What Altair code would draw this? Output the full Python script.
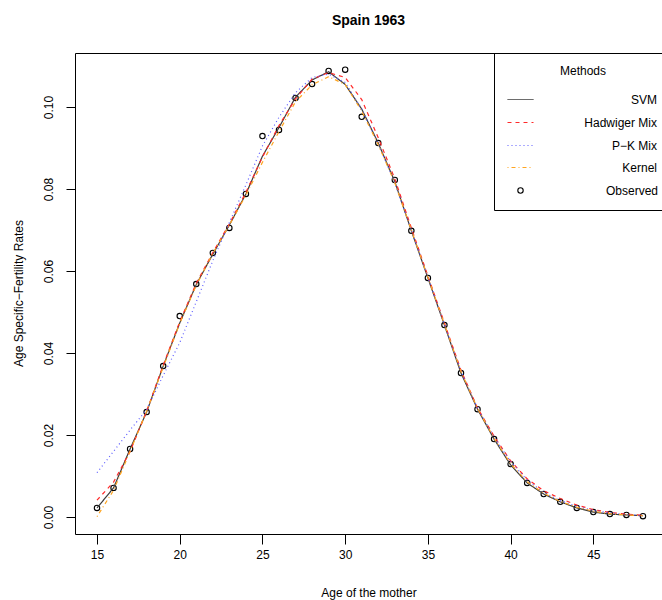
import altair as alt
import pandas as pd

FONT = "Liberation Sans"

ages = list(range(15, 49))
observed = [0.0022, 0.0071, 0.0166, 0.0256, 0.0368, 0.0490, 0.0568, 0.0644, 0.0705, 0.0788,
            0.0929, 0.0944, 0.1022, 0.1056, 0.1088, 0.1091, 0.0976, 0.0912, 0.0822, 0.0698,
            0.0583, 0.0468, 0.0351, 0.0263, 0.0190, 0.0129, 0.0083, 0.0056, 0.0037, 0.0022,
            0.0012, 0.0007, 0.0005, 0.0002]
svm = [0.0022, 0.0071, 0.0166, 0.0256, 0.0368, 0.0473, 0.0567, 0.0641, 0.0712, 0.0788,
       0.0880, 0.0950, 0.1024, 0.1066, 0.1086, 0.1055, 0.0995, 0.0912, 0.0818, 0.0698,
       0.0583, 0.0468, 0.0351, 0.0263, 0.0190, 0.0127, 0.0083, 0.0056, 0.0037, 0.0022,
       0.0012, 0.0007, 0.0005, 0.0003]
hadwiger = [0.0041, 0.0085, 0.0160, 0.0258, 0.0370, 0.0476, 0.0570, 0.0645, 0.0715, 0.0792,
            0.0878, 0.0955, 0.1020, 0.1068, 0.1084, 0.1072, 0.1018, 0.0925, 0.0825, 0.0705,
            0.0588, 0.0473, 0.0358, 0.0266, 0.0197, 0.0137, 0.0093, 0.0064, 0.0045, 0.0029,
            0.0018, 0.0011, 0.0007, 0.0004]
pk_mix = [0.0108, 0.0160, 0.0212, 0.0262, 0.0345, 0.0425, 0.0525, 0.0625, 0.0718, 0.0810,
          0.0905, 0.0975, 0.1035, 0.1072, 0.1080, 0.1060, 0.0995, 0.0910, 0.0815, 0.0700,
          0.0585, 0.0470, 0.0356, 0.0265, 0.0195, 0.0135, 0.0090, 0.0060, 0.0040, 0.0026,
          0.0016, 0.0010, 0.0006, 0.0003]
kernel = [0.0001, 0.0065, 0.0160, 0.0258, 0.0365, 0.0472, 0.0565, 0.0643, 0.0712, 0.0785,
          0.0865, 0.0940, 0.1013, 0.1054, 0.1074, 0.1055, 0.0990, 0.0908, 0.0815, 0.0700,
          0.0585, 0.0470, 0.0355, 0.0265, 0.0192, 0.0130, 0.0086, 0.0058, 0.0038, 0.0024,
          0.0014, 0.0008, 0.0005, 0.0003]

methods = ["SVM", "Hadwiger Mix", "P\u2212K Mix", "Kernel"]
colors = ["#3c3c3c", "#ff2a2a", "#5a5aff", "#ffa520"]
dashes = [[1, 0], [4, 4], [1, 3], [1, 3, 4, 3]]
legend_rows = [36, 59, 82, 104]          # legend entry offsets (px from plot top)
LINE_SYM = "M-1.3,0H1.3"
CIRCLE_SYM = "M-0.284,0A0.284,0.284,0,1,1,0.284,0A0.284,0.284,0,1,1,-0.284,0Z"

rows = []
for name, vals in zip(methods, [svm, hadwiger, pk_mix, kernel]):
    for a, v in zip(ages, vals):
        rows.append({"age": a, "rate": v, "method": name})
lines_df = pd.DataFrame(rows)
obs_df = pd.DataFrame({"age": ages, "rate": observed, "kind": ["Observed"] * len(ages)})

x_scale = alt.Scale(domain=[13.67, 49.15], nice=False, zero=False)
y_scale = alt.Scale(domain=[-0.00415, 0.11317], nice=False, zero=False)

obs_legend = alt.Legend(
    title="Methods", orient="none", legendX=419, legendY=0,
    strokeColor="black", padding=13,
    titleAnchor="middle", titleFont=FONT, titleFontSize=12, titleFontWeight="normal",
    titleColor="black", titlePadding=102,
    labelFont=FONT, labelFontSize=12, labelColor="black", labelAlign="right",
    labelOffset=127, symbolSize=361, symbolStrokeWidth=1.1, symbolOffset=3,
    symbolStrokeColor="black",
)

x_axis = alt.Axis(values=[15, 20, 25, 30, 35, 40, 45], title="Age of the mother",
                  tickSize=10, labelPadding=5, titleY=58, titleBaseline="middle",
                  grid=False, domain=False)
y_axis = alt.Axis(values=[0, 0.02, 0.04, 0.06, 0.08, 0.10], format=".2f",
                  title="Age Specific\u2212Fertility Rates", tickSize=9, labelAngle=-90,
                  labelAlign="center", labelBaseline="middle", labelPadding=18,
                  titleX=-57, titleY=240, titleBaseline="middle", titleAlign="center",
                  grid=False, domain=False)

points = alt.Chart(obs_df).mark_point(filled=False, strokeWidth=1.1, opacity=1, size=361,
                                      color="black").encode(
    x=alt.X("age:Q", scale=x_scale, axis=x_axis),
    y=alt.Y("rate:Q", scale=y_scale, axis=y_axis),
    shape=alt.Shape("kind:N", scale=alt.Scale(domain=["Observed"], range=[CIRCLE_SYM]),
                    legend=obs_legend),
)

line_layers = []
for name, col, dash, ly in zip(methods, colors, dashes, legend_rows):
    leg = alt.Legend(
        title=None, orient="none", legendX=435, legendY=ly, padding=0,
        labelFont=FONT, labelFontSize=12, labelColor="black", labelAlign="right",
        labelOffset=126, symbolType=LINE_SYM, symbolSize=400, symbolStrokeWidth=1,
        symbolStrokeColor=col, symbolOffset=0,
    )
    layer = alt.Chart(lines_df).transform_filter(
        alt.datum.method == name
    ).mark_line(strokeWidth=1.2, color=col).encode(
        x=alt.X("age:Q", scale=x_scale),
        y=alt.Y("rate:Q", scale=y_scale),
        strokeDash=alt.StrokeDash("method:N", scale=alt.Scale(domain=[name], range=[dash]),
                                  legend=leg),
    )
    line_layers.append(layer)

chart = alt.layer(points, *line_layers).resolve_scale(
    strokeDash="independent"
).properties(
    width=587, height=481,
    title=alt.Title("Spain 1963", font=FONT, fontSize=14, fontWeight="bold", color="black",
                    anchor="middle", offset=25),
    autosize=alt.AutoSizeParams(type="none"),
    padding={"left": 75, "top": 53, "right": 0, "bottom": 66},
).configure_view(
    stroke="black", strokeWidth=1
).configure_axis(
    labelFont=FONT, titleFont=FONT, labelFontSize=12, titleFontSize=12,
    labelColor="black", titleColor="black", tickColor="black", titleFontWeight="normal",
)

chart.save("out.html", embed_options={"renderer": "svg", "actions": False})
